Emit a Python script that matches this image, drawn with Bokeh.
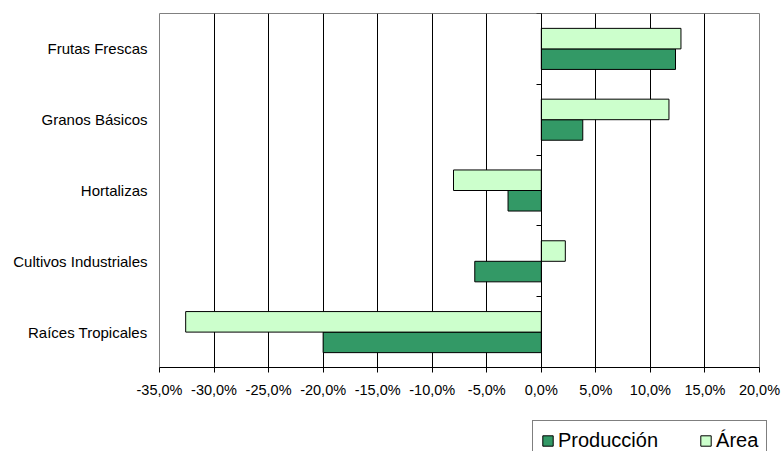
from bokeh.plotting import figure
from bokeh.models import (ColumnDataSource, Range1d, LinearAxis, FixedTicker,
                          Legend, LegendItem)
from bokeh.embed import file_html
from bokeh.resources import INLINE

# ---- data (percent change) ----
categories = ["Frutas Frescas", "Granos Básicos", "Hortalizas",
              "Cultivos Industriales", "Raíces Tropicales"]
produccion = [12.3, 3.8, -3.05, -6.1, -20.0]
area = [12.8, 11.7, -8.05, 2.2, -32.6]
x_ticks = [-35, -30, -25, -20, -15, -10, -5, 0, 5, 10, 15, 20]
x_tick_labels = ["-35,0%", "-30,0%", "-25,0%", "-20,0%", "-15,0%", "-10,0%",
                 "-5,0%", "0,0%", "5,0%", "10,0%", "15,0%", "20,0%"]
series_names = ["Producción", "Área"]
series_fields = ["produccion", "area"]
series_colors = ["#339966", "#CCFFCC"]

n = len(categories)
centers = [n - 0.5 - i for i in range(n)]
bar_h = 0.29
off = bar_h / 2

src = ColumnDataSource(dict(
    cat=categories,
    center=centers,
    y_area=[c + off for c in centers],
    y_prod=[c - off for c in centers],
    produccion=produccion,
    area=area,
))

p = figure(width=782, height=405, output_backend="svg", toolbar_location=None,
           x_range=Range1d(x_ticks[0], x_ticks[-1]), y_range=Range1d(0, n),
           min_border_left=159, min_border_right=23, min_border_top=13,
           min_border_bottom=38,
           background_fill_color="white", border_fill_color="white",
           outline_line_color="#808080", outline_line_width=1)

p.hbar(y="y_prod", left=0, right="produccion", height=bar_h,
       fill_color=series_colors[0], line_color="black", line_width=1,
       source=src)
p.hbar(y="y_area", left=0, right="area", height=bar_h,
       fill_color=series_colors[1], line_color="black", line_width=1,
       source=src)

# x axis
p.xaxis.ticker = FixedTicker(ticks=x_ticks)
p.xaxis.major_label_overrides = dict(zip(x_ticks, x_tick_labels))
p.xaxis.minor_tick_line_color = None
p.xaxis.major_tick_out = 5
p.xaxis.major_tick_in = 0
p.xaxis.axis_line_color = "black"
p.xaxis.major_tick_line_color = "black"
p.xaxis.major_label_standoff = 9
p.xaxis.major_label_text_font = "Liberation Sans"
p.xaxis.major_label_text_font_size = "14.5px"
p.xaxis.major_label_text_color = "black"

# grid
p.xgrid.ticker = FixedTicker(ticks=x_ticks)
p.xgrid.grid_line_color = "black"
p.xgrid.grid_line_width = 1
p.ygrid.grid_line_color = None

# category label axis (left)
p.yaxis.ticker = FixedTicker(ticks=centers)
p.yaxis.major_label_overrides = dict(zip(centers, categories))
p.yaxis.axis_line_color = None
p.yaxis.major_tick_line_color = None
p.yaxis.minor_tick_line_color = None
p.yaxis.major_tick_out = 0
p.yaxis.major_tick_in = 0
p.yaxis.major_label_standoff = 12
p.yaxis.major_label_text_font = "Liberation Sans"
p.yaxis.major_label_text_font_size = "15px"
p.yaxis.major_label_text_color = "black"

# zero axis with ticks at category boundaries
zero_axis = LinearAxis(fixed_location=0,
                       ticker=FixedTicker(ticks=list(range(n + 1))),
                       major_label_overrides={i: "" for i in range(n + 1)},
                       major_tick_out=5, major_tick_in=0,
                       minor_tick_line_color=None,
                       axis_line_color="black", major_tick_line_color="black")
p.add_layout(zero_axis, "left")

# ---- legend strip ----
p2 = figure(width=782, height=46, output_backend="svg", toolbar_location=None,
            x_range=Range1d(0, 1), y_range=Range1d(0, 1),
            min_border_left=159, min_border_right=0, min_border_top=0,
            min_border_bottom=0, outline_line_color=None,
            background_fill_color="white", border_fill_color="white")
p2.axis.visible = False
p2.grid.visible = False
lr = [p2.hbar(y="center", right=f, height=bar_h, fill_color=c,
              line_color="black", line_width=1, source=src, visible=False)
      for f, c in zip(series_fields, series_colors)]

legend = Legend(items=[LegendItem(label=s, renderers=[r])
                       for s, r in zip(series_names, lr)],
                orientation="horizontal", location=(373, -10),
                padding=8, spacing=41, margin=0,
                glyph_width=13, glyph_height=13, label_standoff=4,
                label_text_font="Liberation Sans", label_text_font_size="20px",
                label_text_color="black",
                inactive_fill_alpha=0,
                border_line_color="black", border_line_width=1,
                background_fill_color="white", background_fill_alpha=1)
p2.add_layout(legend)

open("out.html", "w").write(file_html([p, p2], INLINE))
